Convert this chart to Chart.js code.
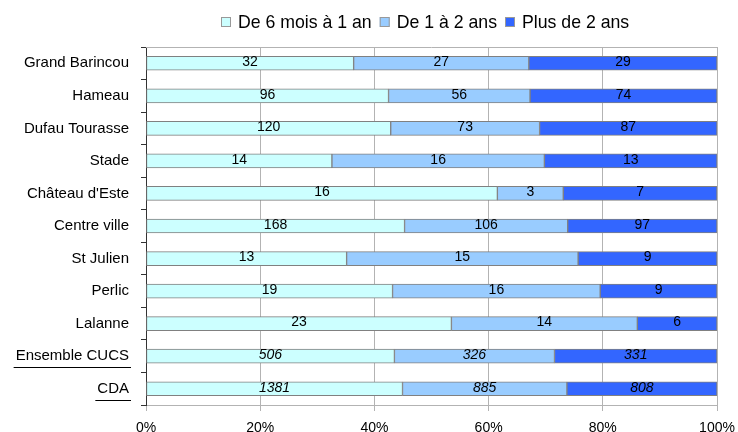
<!DOCTYPE html>
<html>
<head>
<meta charset="utf-8">
<script src="https://cdn.jsdelivr.net/npm/chart.js@4"></script>
<style>
    html, body { margin: 0; padding: 0; background: #fff; }
    #wrap { width: 738px; height: 432px; }
</style>
</head>
<body>
<div id="wrap"><canvas id="chart" width="738" height="432"></canvas></div>
<script>
// categories et effectifs
const quartiers = ['Grand Barincou', 'Hameau', 'Dufau Tourasse', 'Stade', "Château d'Este", 'Centre ville', 'St Julien', 'Perlic', 'Lalanne', 'Ensemble CUCS', 'CDA'];
const de6moisA1an = [32, 96, 120, 14, 16, 168, 13, 19, 23, 506, 1381];
const de1A2ans = [27, 56, 73, 16, 3, 106, 15, 16, 14, 326, 885];
const plusDe2ans = [29, 74, 87, 13, 7, 97, 9, 9, 6, 331, 808];
const ticksX = ['0%', '20%', '40%', '60%', '80%', '100%'];

const series = [
    { label: 'De 6 mois à 1 an', counts: de6moisA1an, color: '#CCFFFF' },
    { label: 'De 1 à 2 ans', counts: de1A2ans, color: '#99CCFF' },
    { label: 'Plus de 2 ans', counts: plusDe2ans, color: '#3366FF' },
];

const totals = quartiers.map((q, i) => de6moisA1an[i] + de1A2ans[i] + plusDe2ans[i]);
const italiques = [9, 10];
const police = "'Liberation Sans', Arial, sans-serif";

Chart.defaults.font.family = police;
Chart.defaults.color = '#000';

const pluginEtiquettes = {
    id: 'etiquettes',
    beforeDatasetsDraw(chart) {
        let ctx = chart.ctx;
        let a = chart.chartArea;
        ctx.save();
        ctx.strokeStyle = '#b3b3b3';
        ctx.lineWidth = 1;
        ctx.beginPath();
        ctx.moveTo(a.left, Math.round(a.top) + 0.5);
        ctx.lineTo(a.right, Math.round(a.top) + 0.5);
        ctx.stroke();
        ctx.restore();
    },
    afterDatasetsDraw(chart) {
        let ctx = chart.ctx;
        ctx.save();
        ctx.textAlign = 'center';
        ctx.textBaseline = 'middle';
        ctx.fillStyle = '#000';
        chart.data.datasets.forEach((ds, di) => {
            chart.getDatasetMeta(di).data.forEach((bar, i) => {
                let x = (bar.x + bar.base) / 2;
                ctx.font = (italiques.includes(i) ? 'italic ' : '') + '14px ' + police;
                ctx.fillText(String(series[di].counts[i]), x, bar.y - 1);
            });
        });
        ctx.restore();
    },
    afterDraw(chart) {
        let ctx = chart.ctx;
        let y = chart.scales.y;
        ctx.save();

        // soulignement des deux dernieres lignes
        ctx.font = '15px ' + police;
        ctx.strokeStyle = '#000';
        ctx.lineWidth = 1;
        italiques.forEach(i => {
            let w = ctx.measureText(quartiers[i]).width;
            let right = y.right - 17;
            let yy = Math.round(y.getPixelForTick(i) + 11) + 0.5;
            ctx.beginPath();
            ctx.moveTo(right - w - 2, yy);
            ctx.lineTo(right + 2, yy);
            ctx.stroke();
        });

        // legende
        ctx.font = '17.7px ' + police;
        ctx.textBaseline = 'middle';
        ctx.textAlign = 'left';
        let x = 221;
        series.forEach(s => {
            ctx.fillStyle = s.color;
            ctx.fillRect(x, 17, 10, 10);
            ctx.strokeStyle = '#999';
            ctx.strokeRect(x + 0.5, 17.5, 9, 9);
            ctx.fillStyle = '#000';
            ctx.fillText(s.label, x + 17, 23);
            x += 17 + ctx.measureText(s.label).width + 8;
        });
        ctx.restore();
    }
};

new Chart(document.getElementById('chart'), {
    type: 'bar',
    data: {
        labels: quartiers,
        datasets: series.map(s => ({
            label: s.label,
            data: s.counts.map((v, i) => v / totals[i] * 100),
            backgroundColor: s.color,
            borderColor: '#808080',
            borderWidth: 1,
            borderSkipped: false,
            barThickness: 14,
        }))
    },
    options: {
        indexAxis: 'y',
        responsive: false,
        animation: false,
        layout: { padding: { top: 47, right: 21, bottom: 0, left: 0 } },
        plugins: {
            tooltip: { enabled: false },
            legend: { display: false }
        },
        scales: {
            x: {
                stacked: true,
                min: 0,
                max: 100,
                ticks: {
                    stepSize: 20,
                    font: { size: 14 },
                    color: '#000',
                    padding: 9,
                    maxRotation: 0,
                    callback: (v) => ticksX[v / 20],
                },
                grid: { color: '#b3b3b3', tickLength: 6 },
                border: { color: '#b3b3b3' },
                afterFit(scale) {
                    scale.height = 27;
                    scale.paddingRight = 0;
                    scale.paddingLeft = 0;
                },
            },
            y: {
                stacked: true,
                ticks: { font: { size: 15 }, color: '#000', padding: 12 },
                grid: { drawOnChartArea: false, drawTicks: true, tickLength: 5, color: '#333', offset: true },
                border: { color: '#333' },
                afterFit(scale) { scale.width = 146; },
            }
        }
    },
    plugins: [pluginEtiquettes]
});
</script>
</body>
</html>
